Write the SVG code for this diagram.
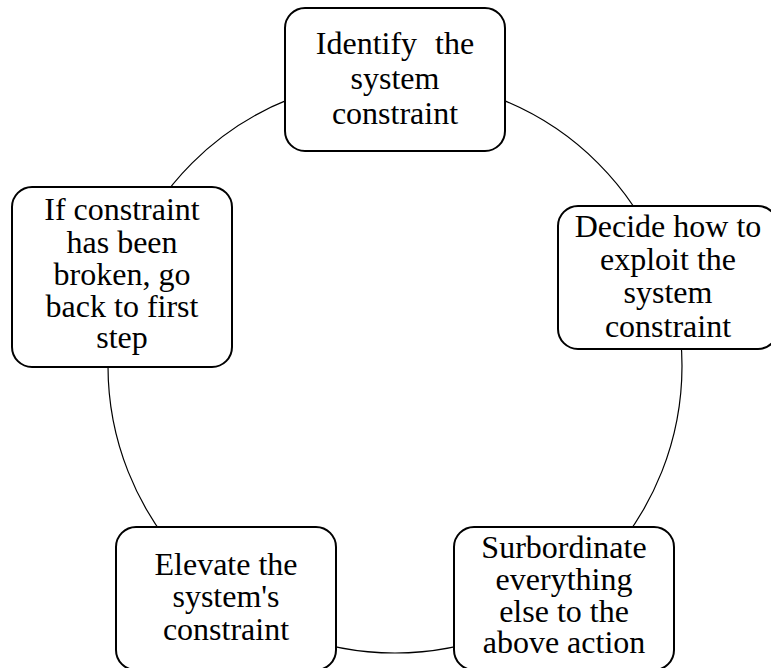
<svg xmlns="http://www.w3.org/2000/svg" width="771" height="668" viewBox="0 0 771 668">
<style>
.box{fill:#fff;stroke:#000;stroke-width:2}
.t{font-family:"Liberation Serif","Times New Roman",serif;font-size:32px;fill:#000;text-anchor:middle}
.ring{fill:none;stroke:#000;stroke-width:1.2}
</style>
<rect width="771" height="668" fill="#fff"/>
<g id="connectors">
<circle class="ring" cx="395" cy="366" r="287"/>
</g>
<g id="n1">
<rect class="box" x="285" y="8" width="220" height="143" rx="20"/>
<text class="t"><tspan x="395" y="54" word-spacing="10">Identify the</tspan><tspan x="395" y="89">system</tspan><tspan x="395" y="124">constraint</tspan></text>
</g>
<g id="n2">
<rect class="box" x="558" y="206" width="220" height="143" rx="20"/>
<text class="t"><tspan x="668" y="237">Decide how to</tspan><tspan x="668" y="270">exploit the</tspan><tspan x="668" y="303">system</tspan><tspan x="668" y="337">constraint</tspan></text>
</g>
<g id="n3">
<rect class="box" x="454" y="527" width="220" height="143" rx="20"/>
<text class="t"><tspan x="564" y="558">Surbordinate</tspan><tspan x="564" y="590">everything</tspan><tspan x="564" y="622">else to the</tspan><tspan x="564" y="653">above action</tspan></text>
</g>
<g id="n4">
<rect class="box" x="116" y="527" width="220" height="143" rx="20"/>
<text class="t"><tspan x="226" y="575">Elevate the</tspan><tspan x="226" y="607">system's</tspan><tspan x="226" y="640">constraint</tspan></text>
</g>
<g id="n5">
<rect class="box" x="12" y="187" width="220" height="180" rx="20"/>
<text class="t"><tspan x="122" y="220">If constraint</tspan><tspan x="122" y="253">has been</tspan><tspan x="122" y="285">broken, go</tspan><tspan x="122" y="317">back to first</tspan><tspan x="122" y="348">step</tspan></text>
</g>
</svg>
